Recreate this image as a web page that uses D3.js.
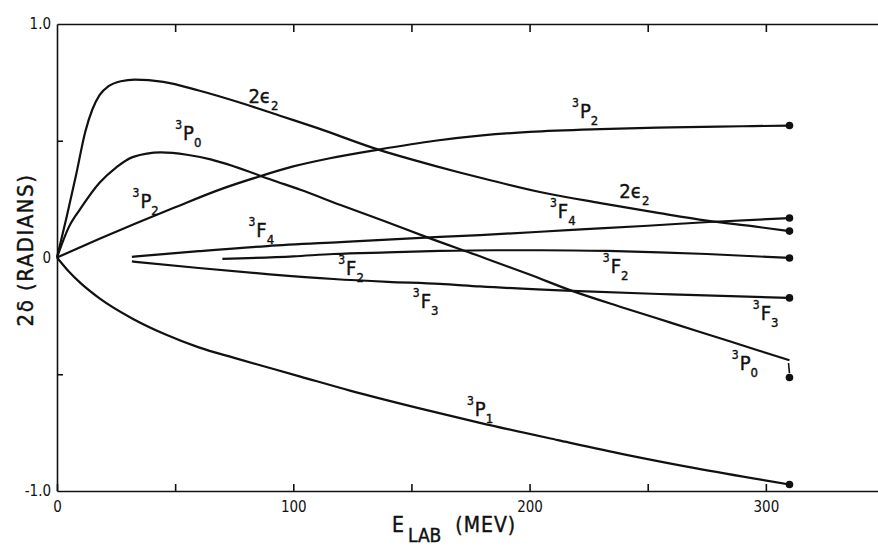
<!DOCTYPE html>
<html>
  <head>
    <meta charset="UTF-8" />
    <script src="https://cdnjs.cloudflare.com/ajax/libs/d3/7.8.5/d3.min.js"></script>
    <style>
      body {
        margin: 0;
        background: #fff;
      }
      svg {
        font-family: "DejaVu Sans Condensed", "DejaVu Sans", sans-serif;
        font-stretch: condensed;
      }
      .axis path.domain,
      .axis line {
        stroke: #111;
        stroke-width: 1.6px;
      }
      .axis text {
        fill: #111;
        font-size: 15px;
        font-family: "DejaVu Sans Condensed", "DejaVu Sans", sans-serif;
      }
      .curve {
        fill: none;
        stroke: #111;
        stroke-width: 2.2px;
      }
      .lbl,
      .title {
        fill: #111;
        stroke: #111;
        stroke-width: 0.4px;
      }
    </style>
  </head>
  <body>
    <svg id="chart" width="878" height="546"></svg>
    <script>
      // phase parameters 2δ (radians) vs lab energy (MeV)
      const eps2 = [[0, 0], [4, 0.17], [8, 0.35], [12, 0.54], [15, 0.635], [18, 0.695], [22, 0.735],
        [27, 0.755], [33, 0.762], [45, 0.752], [60, 0.715], [80, 0.655], [95, 0.605], [110, 0.555],
        [136, 0.462], [150, 0.42], [170, 0.365], [183, 0.332], [207, 0.275], [230, 0.233],
        [255, 0.19], [275, 0.158], [295, 0.133], [310, 0.113]];
      const p0 = [[0, 0], [5, 0.13], [10, 0.21], [18, 0.32], [25, 0.385], [32, 0.43], [44, 0.45],
        [55, 0.44], [65, 0.42], [75, 0.39], [91, 0.332], [103, 0.29], [120, 0.225], [137, 0.162],
        [157, 0.085], [179, 0.005], [200, -0.073], [218, -0.143], [240, -0.216], [260, -0.28],
        [285, -0.36], [310, -0.44]];
      const p2 = [[0, 0], [18, 0.08], [50, 0.215], [70, 0.295], [85, 0.345], [100, 0.39],
        [115, 0.424], [136, 0.462], [160, 0.5], [180, 0.523], [200, 0.538], [230, 0.55],
        [260, 0.557], [290, 0.562], [310, 0.565]];
      const p1 = [[0, 0], [5, -0.06], [10, -0.11], [18, -0.175], [32, -0.262], [46, -0.33],
        [60, -0.385], [75, -0.43], [89, -0.47], [103, -0.51], [124, -0.57], [153, -0.645],
        [179, -0.708], [212, -0.782], [241, -0.845], [270, -0.902], [310, -0.972]];
      const f4 = [[31.7, 0.003], [60, 0.027], [89, 0.049], [120, 0.066], [162, 0.088],
        [179, 0.096], [218, 0.118], [250, 0.136], [276, 0.152], [310, 0.169]];
      const f3 = [[31.7, -0.017], [60, -0.045], [90, -0.072], [117, -0.092], [140, -0.104],
        [162, -0.113], [179, -0.124], [218, -0.143], [260, -0.158], [310, -0.173]];
      const f2 = [[70, -0.006], [100, 0.005], [117, 0.015], [140, 0.022], [162, 0.028],
        [185, 0.031], [205, 0.031], [233, 0.028], [255, 0.022], [275, 0.015], [310, -0.002]];

      const curves = [eps2, p0, p2, p1, f4, f3, f2];

      // end points at 310 MeV
      const dotE = 310;
      const dotValues = [0.565, 0.169, 0.113, -0.002, -0.173, -0.514, -0.972];
      const p0Bar = [-0.452, -0.495];

      const xTicks = [0, 50, 100, 150, 200, 250, 300, 350];
      const xTickLabels = [0, 100, 200, 300];
      const yTickLabels = { "1": "1.0", "0": "0", "-1": "-1.0" };

      // curve labels: superscript, letter, subscript, anchor (E, 2δ)
      const labels = [
        ["", "2ϵ", "2", 81, 0.662],
        ["3", "P", "0", 50, 0.503],
        ["3", "P", "2", 32, 0.212],
        ["3", "F", "4", 81, 0.088],
        ["3", "F", "2", 119, -0.075],
        ["3", "F", "3", 150.6, -0.216],
        ["3", "P", "1", 173.5, -0.679],
        ["3", "P", "2", 218, 0.597],
        ["", "2ϵ", "2", 238, 0.255],
        ["3", "F", "4", 208.6, 0.169],
        ["3", "F", "2", 231, -0.066],
        ["3", "F", "3", 294.5, -0.268],
        ["3", "P", "0", 285.6, -0.482]
      ];

      const svg = d3.select("#chart");

      const x = d3.scaleLinear().domain([0, 350]).range([57, 884]);
      const y = d3.scaleLinear().domain([-1, 1]).range([491, 24]);

      // axes
      svg.append("g")
        .attr("class", "axis")
        .attr("transform", "translate(0,491)")
        .call(d3.axisBottom(x)
          .tickValues(xTicks)
          .tickSizeInner(-7)
          .tickSizeOuter(0)
          .tickPadding(10)
          .tickFormat(d => xTickLabels.includes(d) ? d : ""));

      svg.append("g")
        .attr("class", "axis")
        .attr("transform", "translate(0,24)")
        .call(d3.axisTop(x)
          .tickValues(xTicks.slice(1))
          .tickSizeInner(-8)
          .tickSizeOuter(0)
          .tickFormat(""));

      svg.append("g")
        .attr("class", "axis")
        .attr("transform", "translate(57,0)")
        .call(d3.axisLeft(y)
          .tickValues([-1, 0, 1])
          .tickSize(0)
          .tickPadding(6)
          .tickFormat(d => yTickLabels[d]));

      svg.append("g")
        .attr("class", "axis")
        .attr("transform", "translate(57,0)")
        .call(d3.axisLeft(y)
          .tickValues([-0.5, 0.5])
          .tickSizeInner(-6)
          .tickSizeOuter(0)
          .tickFormat(""))
        .select(".domain").remove();

      // curves
      const line = d3.line()
        .x(d => x(d[0]))
        .y(d => y(d[1]))
        .curve(d3.curveMonotoneX);

      svg.selectAll("path.curve")
        .data(curves)
        .enter()
        .append("path")
        .attr("class", "curve")
        .attr("d", line);

      svg.append("line")
        .attr("class", "curve")
        .attr("x1", x(dotE) - 1)
        .attr("x2", x(dotE))
        .attr("y1", y(p0Bar[0]))
        .attr("y2", y(p0Bar[1]))
        .style("stroke-width", "1.6px");

      svg.selectAll("circle.end")
        .data(dotValues)
        .enter()
        .append("circle")
        .attr("class", "end")
        .attr("cx", x(dotE))
        .attr("cy", d => y(d))
        .attr("r", 3.8)
        .style("fill", "#111");

      // curve labels
      const t = svg.selectAll("text.lbl")
        .data(labels)
        .enter()
        .append("text")
        .attr("class", "lbl")
        .attr("x", d => x(d[3]))
        .attr("y", d => y(d[4]));

      t.append("tspan")
        .style("font-size", "12px")
        .attr("dy", d => d[0] ? -11 : 0)
        .text(d => d[0]);
      t.append("tspan")
        .style("font-size", "20px")
        .attr("dx", d => d[0] ? 1 : 0)
        .attr("dy", d => d[0] ? 11 : 0)
        .text(d => d[1]);
      t.append("tspan")
        .style("font-size", "13px")
        .attr("dy", 7)
        .text(d => d[2]);

      // axis titles
      const xt = svg.append("text")
        .attr("class", "title")
        .attr("x", 392)
        .attr("y", 532)
        .style("font-size", "21px");
      xt.append("tspan").text("E");
      xt.append("tspan").attr("dx", 4).attr("dy", 10).style("font-size", "19px").text("LAB");
      xt.append("tspan").attr("dx", 14).attr("dy", -10).style("letter-spacing", "1px").text("(MEV)");

      svg.append("text")
        .attr("class", "title")
        .attr("transform", "translate(33,250) rotate(-90)")
        .attr("text-anchor", "middle")
        .style("font-size", "22px")
        .style("letter-spacing", "1.5px")
        .text("2δ (RADIANS)");
    </script>
  </body>
</html>
